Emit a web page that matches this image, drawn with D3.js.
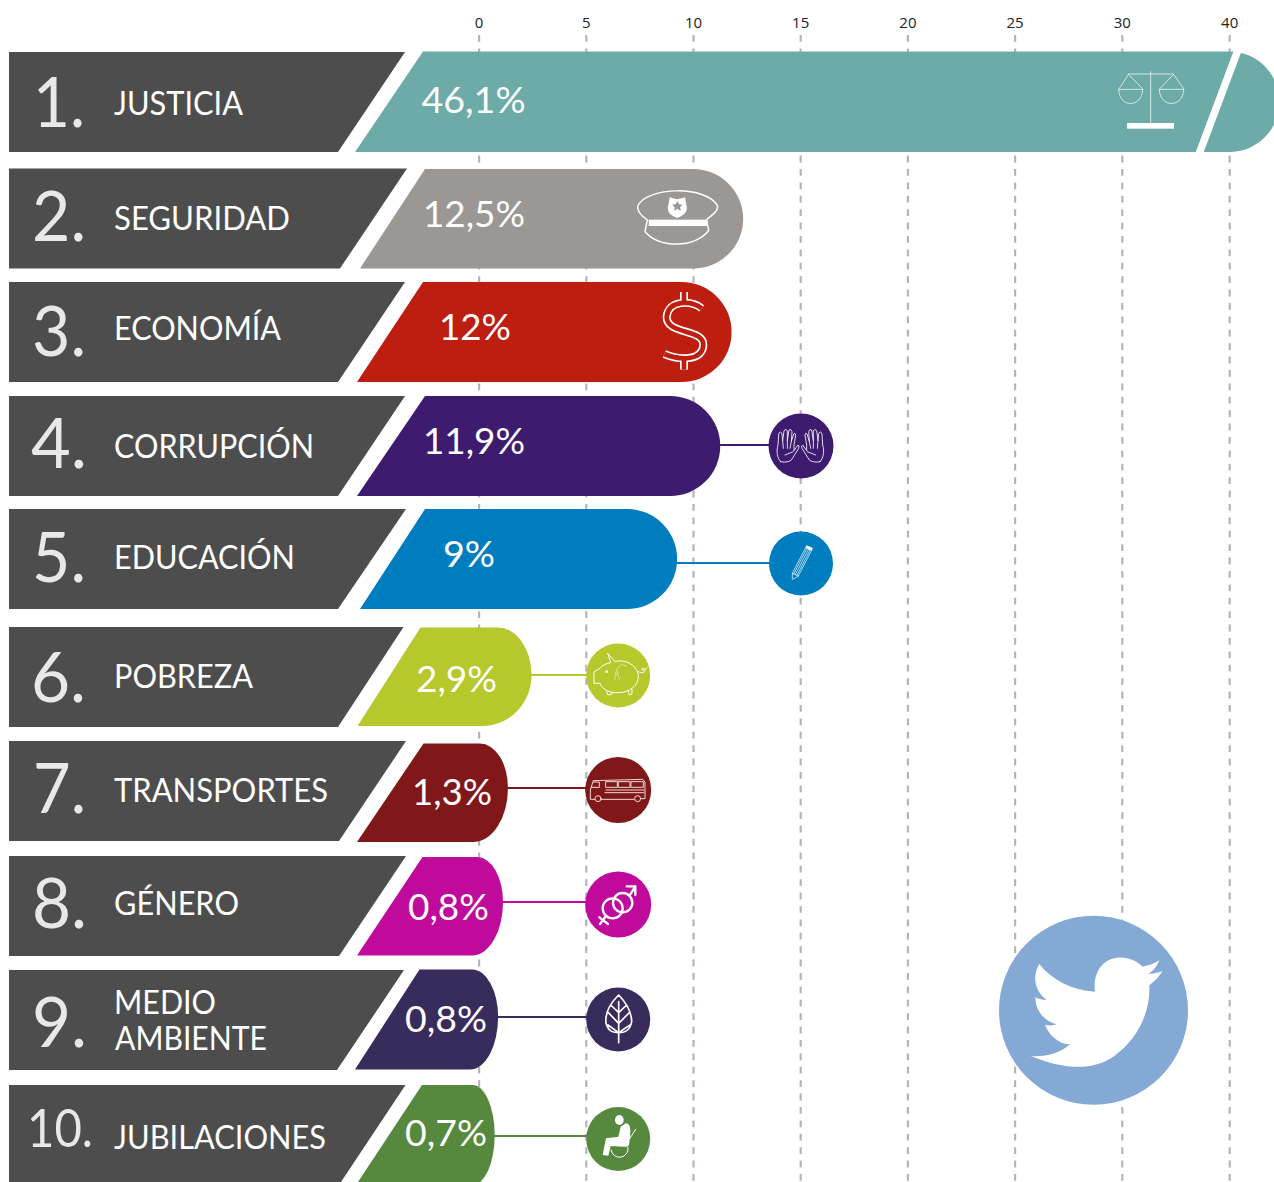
<!DOCTYPE html>
<html><head><meta charset="utf-8">
<script src="https://cdn.jsdelivr.net/npm/d3@7/dist/d3.min.js"></script>
<style>html,body{margin:0;background:#fff}svg{display:block;overflow:hidden}</style>
</head><body><div id="c"></div>
<script>
// ---- data ----
const categories = ["JUSTICIA","SEGURIDAD","ECONOMÍA","CORRUPCIÓN","EDUCACIÓN","POBREZA","TRANSPORTES","GÉNERO","MEDIO AMBIENTE","JUBILACIONES"];
const ranks = ["1.","2.","3.","4.","5.","6.","7.","8.","9.","10."];
const valueLabels = ["46,1%","12,5%","12%","11,9%","9%","2,9%","1,3%","0,8%","0,8%","0,7%"];
// drawn length of every bar, read off the axis of the picture (the original is not strictly to scale)
const barLengths = [44.8,12.34,11.8,11.27,9.26,2.47,1.37,1.14,0.91,0.75];
const tickValues = [0,5,10,15,20,25,30,40];
const colours = ["#6caba8","#9b9795","#bd1e0f","#3d1c6f","#007dbf","#b6c82c","#80181a","#bf0a9c","#372c5c","#56893e"];

// ---- layout tables (not data) ----
const W = 1274, H = 1182, rowH = 100, panelX = 9;
const rowTops   = [52,168.5,282,396,509,627,741,856,970,1085];
const panelTop  = [405,407,405,405,406,403.5,406,406,404,405.5];
const panelBot  = [338,340,338,338,338,338,339,339,337,339];
const barTop    = [423,425,423,425,425,420.5,423.5,422.5,419.5,422];
const barBot    = [355,360,357,357,360,357.5,357,357,355,356];
const barY0     = [51.5,169,282,396,509,627.5,743.5,857,969.5,1085];
const barY1     = [152,268.5,382,496,609,726,842,955.5,1069.5,1185];
const capRxTop  = [50,50,50,50,50,34,28,26,26,22];
const capRxBot  = [50,50,50,50,50,49,35,31,28,22];
const capMid    = [102,219,332,446,559,675,788,902,1017,1135];
const rankX     = [33,32,32,31,32,31,33,32,32,27];
const rankBase  = [127,241,356,468,582,702,813,928,1047,1147];
const rankW     = [52,54,54,56,54,55,53,55,55,66];
const labelBase = [115,230,340,458,569,688,802,915,null,1149];
const labelW    = [129,176,167,200,181,139,214,125,null,212];
const valBase   = [113,227,340,454,567,692,805,920,1032,1146];
const valCx     = [473.5,474,475,474,469,456.5,452,448.5,446,446];
const valW      = [104,102,72,102,52,81,80,81,82,82];
const iconTick  = [null,null,null,15,15,5,5,5,5,5];
const iconDx    = [0,0,0,0.8,0.8,32.4,32.4,32.4,32.4,32.4];
const iconY     = [0,0,0,446,563.5,675.5,790,904.5,1019.5,1139];
const lineY     = [0,0,0,445,563,675,788,902,1017,1136];
const iconR     = [0,0,0,32.5,32,32,33,33,32,32];

const x = d3.scaleLinear().domain([0,30,40,46.1]).range([478.6,1121.8,1229.2,1293]);
const y = d3.scaleOrdinal(categories, rowTops);
const font = "Lato, 'Open Sans', sans-serif";

const svg = d3.select("#c").append("svg").attr("width",W).attr("height",H);

// axis + dashed gridlines
const axis = svg.append("g").attr("transform","translate(0,35)")
  .call(d3.axisTop(x).tickValues(tickValues).tickSize(-(H-35)).tickPadding(7));
axis.select(".domain").remove();
axis.selectAll("line").attr("stroke","#b4b3c1").attr("stroke-width",2.2).attr("stroke-dasharray","6.8 6.6");
axis.selectAll("text").attr("font-family","'Open Sans',sans-serif").attr("font-size",15).attr("fill","#222");

// panels
svg.append("g").selectAll("path").data(categories).join("path")
  .attr("fill","#4d4d4d")
  .attr("d",(d,i)=>`M${panelX},${y(d)}H${panelTop[i]}L${panelBot[i]},${y(d)+rowH}H${panelX}Z`);

// bars
function barPath(d,i){
  const y0=barY0[i], y1=barY1[i], m=capMid[i], xe=x(barLengths[i]), rt=capRxTop[i], rb=capRxBot[i];
  return `M${barBot[i]},${y1}L${barTop[i]},${y0}H${xe-rt}A${rt},${m-y0} 0 0 1 ${xe},${m}A${rb},${y1-m} 0 0 1 ${xe-rb},${y1}Z`;
}
svg.append("g").selectAll("path").data(categories).join("path")
  .attr("fill",(d,i)=>colours[i]).attr("d",barPath);
// axis-break slash on the first bar
svg.append("path").attr("fill","#fff").attr("d","M1234,50H1242L1203,154H1195Z");

// connectors and icon circles
const callouts = categories.map((c,i)=>({c,i})).filter(o=>iconTick[o.i]!==null);
const cx = o => x(iconTick[o.i]) + iconDx[o.i];
svg.append("g").selectAll("line").data(callouts).join("line")
  .attr("x1",o=>x(barLengths[o.i])-1).attr("x2",cx)
  .attr("y1",o=>lineY[o.i]).attr("y2",o=>lineY[o.i])
  .attr("stroke",o=>colours[o.i]).attr("stroke-width",2);
svg.append("g").selectAll("circle").data(callouts).join("circle")
  .attr("cx",cx).attr("cy",o=>iconY[o.i]).attr("r",o=>iconR[o.i]).attr("fill",o=>colours[o.i]);

// text
const txt = svg.append("g").attr("font-family",font).attr("fill","#fff");
txt.selectAll(".rank").data(ranks).join("text").attr("class","rank")
  .attr("x",(d,i)=>rankX[i]).attr("y",(d,i)=>rankBase[i])
  .attr("font-size",(d,i)=>i==9?52:70).attr("font-weight",400).attr("fill","#e8e8e8")
  .attr("textLength",(d,i)=>rankW[i]).attr("lengthAdjust","spacingAndGlyphs").text(d=>d);
txt.selectAll(".lab").data(categories.filter((d,i)=>labelBase[i]!==null)).join("text").attr("class","lab")
  .attr("x",114).attr("y",d=>labelBase[categories.indexOf(d)])
  .attr("font-size",32).attr("textLength",d=>labelW[categories.indexOf(d)]).attr("lengthAdjust","spacingAndGlyphs").text(d=>d);
const two = categories[8].split(" ");
txt.append("text").attr("x",114).attr("y",1014).attr("font-size",32).attr("textLength",102).attr("lengthAdjust","spacingAndGlyphs").text(two[0]);
txt.append("text").attr("x",115).attr("y",1050).attr("font-size",32).attr("textLength",152).attr("lengthAdjust","spacingAndGlyphs").text(two[1]);
txt.selectAll(".val").data(valueLabels).join("text").attr("class","val")
  .attr("x",(d,i)=>valCx[i]).attr("y",(d,i)=>valBase[i]).attr("text-anchor","middle")
  .attr("font-size",37).attr("textLength",(d,i)=>valW[i]).attr("lengthAdjust","spacingAndGlyphs").text(d=>d);

// icons: traced at 3x in local coordinates
function icon(ox,oy){ return svg.append("g").attr("transform",`translate(${ox},${oy}) scale(${1/3})`).attr("fill","none").attr("stroke","#fff").attr("stroke-linecap","round").attr("stroke-linejoin","round"); }

// scales of justice
let g = icon(1050,0); g.attr("stroke-width",2.5).attr("stroke","#e8f1f0");
g.append("path").attr("d","M302,215V370M235,222H370M235,224L206,268H278ZM206,268C206,325 278,325 278,268M370,224L328,268H401ZM328,268C328,325 401,325 401,268");
g.append("rect").attr("x",231).attr("y",369).attr("width",141).attr("height",17).attr("fill","#fff").attr("stroke","none");

// police cap
g = icon(340,0); g.attr("stroke-width",4.5);
g.append("path").attr("d","M893,618C920,560 1100,555 1133,618C1135,640 1105,650 1100,660L1106,692C1060,745 960,745 915,695L922,660C905,648 890,635 893,618Z");
g.append("rect").attr("x",926).attr("y",659).attr("width",175).attr("height",19).attr("fill","#fff").attr("stroke","none");
g.append("path").attr("fill","#fff").attr("stroke","none").attr("d","M988,592L1012,598L1036,592C1035,605 1042,615 1040,630C1035,645 1020,650 1012,654C1002,650 988,645 984,630C982,615 990,605 988,592Z");
g.append("path").attr("fill","#9b9795").attr("stroke","none").attr("d","M1012,603L1017,613L1028,614L1020,622L1023,632L1012,627L1002,632L1004,622L996,614L1007,613Z");

// dollar sign
g = icon(650,280);
const dollar = ["M155,85C125,62 55,58 50,110C48,165 162,145 160,195C158,245 85,240 43,222","M102,36V68","M102,232V269"];
dollar.forEach(p=>g.append("path").attr("d",p).attr("stroke-width",24).attr("stroke-linecap","butt"));
dollar.forEach(p=>g.append("path").attr("d",p).attr("stroke-width",14).attr("stroke","#bd1e0f").attr("stroke-linecap","butt"));

// hands
g = icon(650,280); g.attr("stroke-width",2.5);
const hand = "M392,545C382,535 378,515 384,495L386,462Q391,450 396,462L398,482L402,452Q408,445 412,452L412,482L417,450Q423,445 426,455L424,484L431,462Q436,456 437,466L432,495L432,512L444,495Q449,498 446,505L424,540C418,546 400,548 392,545ZM398,482L400,505M412,482L412,505M424,484L420,505M405,525L430,515";
g.append("path").attr("d",hand);
g.append("path").attr("d",hand).attr("transform","translate(902,0) scale(-1,1)");

// pencil
g = icon(650,280); g.attr("stroke-width",2);
g.append("path").attr("d","M427,897L427,880L470,797L488,805L445,888ZM427,880L445,888M436,884L479,801M431,882L474,799M441,886L484,803");
g.append("path").attr("fill","#fff").attr("stroke","none").attr("d","M470,797L488,805L484,812L467,804Z");

// piggy bank
g = icon(480,630); g.attr("stroke-width",3);
g.append("path").attr("d","M343,125L360,115C366,105 382,100 392,98L383,70L405,95C440,85 475,110 475,140C475,165 450,188 415,188C385,190 365,175 360,160L343,160ZM380,185L384,195L396,192L395,188M445,185L448,195L456,192L456,178M475,125C490,135 502,120 490,115C480,115 485,130 502,112");
g.append("path").attr("stroke-width",1.5).attr("d","M405,135C410,110 425,95 440,110M412,125L418,148M410,130L404,148");
g.append("circle").attr("cx",380).attr("cy",125).attr("r",4).attr("fill","#fff").attr("stroke","none");

// bus
g = icon(480,630); g.attr("stroke-width",2.5);
g.append("path").attr("d","M344,508H331V480L340,452L488,448L495,456V506H484M462,508H364M378,455H412V472H378ZM416,455H450V472H416ZM454,455H490V472H454ZM340,456H358V472H335M375,488H492M378,480H492");
g.append("circle").attr("cx",354).attr("cy",506).attr("r",9);
g.append("circle").attr("cx",473).attr("cy",506).attr("r",9);

// gender
g = icon(480,630); g.attr("stroke-width",7);
g.append("circle").attr("cx",398).attr("cy",835).attr("r",30);
g.append("circle").attr("cx",428).attr("cy",818).attr("r",29);
g.append("path").attr("d","M448,798L466,769M440,769H466V795M378,858L360,882M358,862L384,882");

// leaf
g = icon(480,960); g.attr("stroke-width",5);
g.append("path").attr("d","M416,105C385,135 375,165 378,190C385,215 400,218 416,218C432,218 450,215 455,185C455,160 445,135 416,105ZM416,125V248M416,158L392,135M416,158L440,135M416,190L385,158M416,190L448,158M416,218L384,195M416,218L450,195");

// wheelchair
g = icon(480,960);
g.append("ellipse").attr("cx",418).attr("cy",480).attr("rx",13).attr("ry",15).attr("fill","#fff").attr("stroke","none");
g.append("path").attr("fill","#fff").attr("stroke","none").attr("d","M437,490C450,490 453,505 450,530L448,548C448,558 442,562 430,560L392,558L385,587L368,585L378,535L415,530L422,500Z");
g.append("path").attr("stroke-width",3).attr("d","M448,538L467,508M393,570A25,25 0 1 0 444,562");

// twitter badge
svg.append("circle").attr("cx",1093.5).attr("cy",1010.3).attr("r",94.5).attr("fill","#85a9d5");
svg.append("path").attr("transform",`translate(980,900) scale(${1/3})`).attr("fill","#fff")
  .attr("d","M178,192C215,240 275,270 345,275C340,240 350,195 392,178C430,165 465,178 488,200C505,197 525,190 538,181C532,198 520,212 505,222C520,222 535,218 548,213C537,230 523,245 508,256C512,340 470,420 400,470C340,510 260,512 152,468C195,472 240,460 270,433C235,432 207,405 195,374C207,377 220,377 230,373C190,362 166,330 166,292C177,298 189,300 200,300C165,275 155,230 178,192Z");
</script></body></html>
